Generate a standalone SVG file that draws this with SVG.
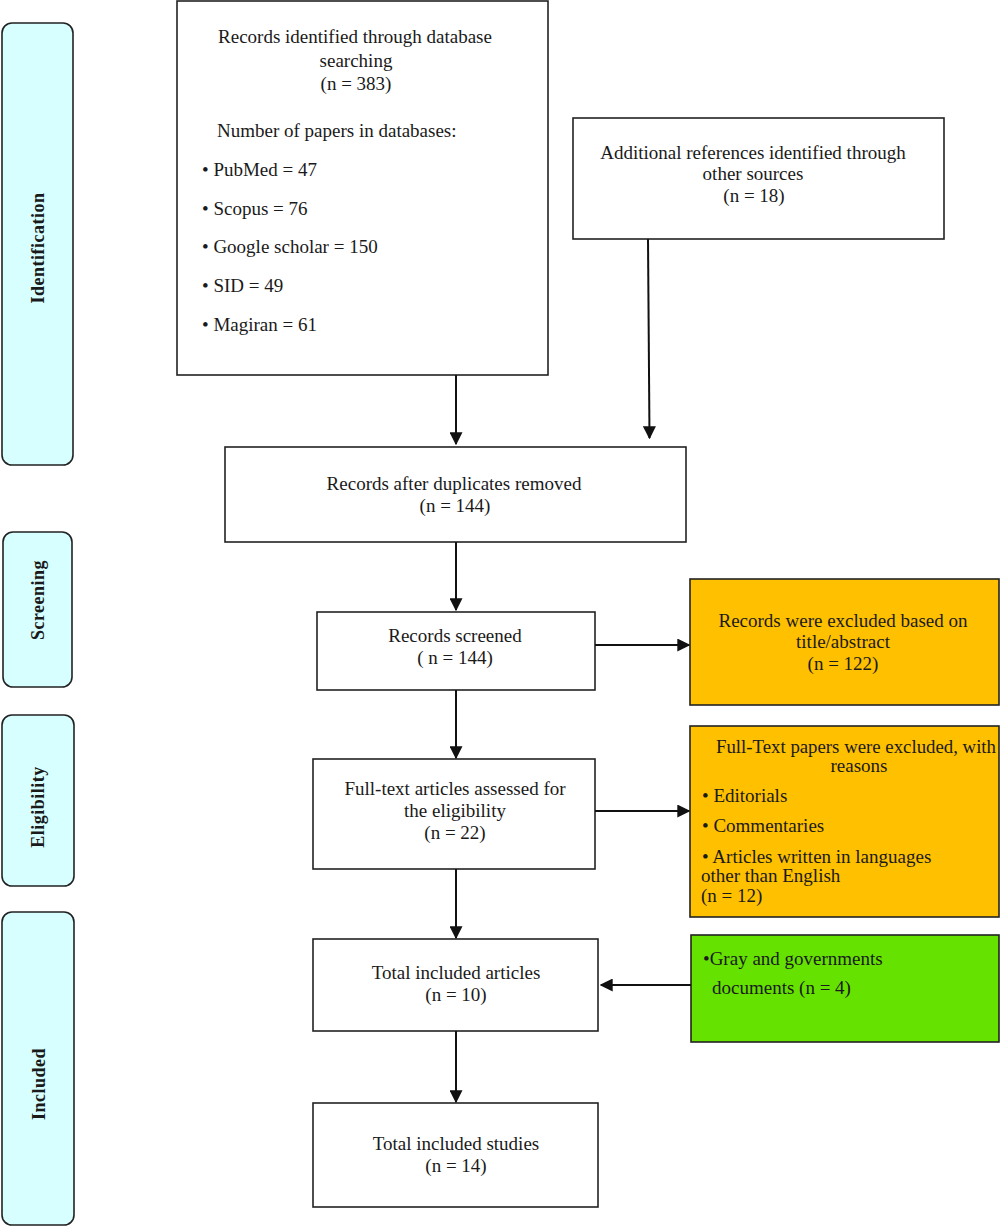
<svg xmlns="http://www.w3.org/2000/svg" width="1000" height="1227" viewBox="0 0 1000 1227">
<style>
  text { font-family: "Liberation Serif", "DejaVu Serif", serif; font-size: 19px; fill: #1a1a1a; }
  .c { text-anchor: middle; }
  .side { font-weight: bold; font-size: 18px; text-anchor: middle; letter-spacing: 0.5px; }
  .sbox { fill: #D7FFFF; stroke: #222; stroke-width: 1.6; }
  .box { fill: #fff; stroke: #222; stroke-width: 1.6; }
  .orange { fill: #FFC000; stroke: #222; stroke-width: 1.6; }
  .green { fill: #66E200; stroke: #222; stroke-width: 1.6; }
  .conn line { stroke: #111; stroke-width: 2; marker-end: url(#ah); }
</style>
<defs>
  <marker id="ah" viewBox="0 0 10 10" refX="9" refY="5" markerWidth="6.5" markerHeight="6.5" markerUnits="strokeWidth" orient="auto">
    <path d="M0,0 L10,5 L0,10 z" fill="#111"/>
  </marker>
</defs>
<rect width="1000" height="1227" fill="#fff"/>

<g id="side-identification">
  <rect class="sbox" x="2" y="23" width="71" height="442" rx="10"/>
  <text class="side" transform="translate(44,248) rotate(-90)">Identification</text>
</g>
<g id="side-screening">
  <rect class="sbox" x="3" y="532" width="69" height="155" rx="10"/>
  <text class="side" transform="translate(44,600) rotate(-90)">Screening</text>
</g>
<g id="side-eligibility">
  <rect class="sbox" x="2" y="715" width="72" height="171" rx="10"/>
  <text class="side" transform="translate(44,807) rotate(-90)">Eligibility</text>
</g>
<g id="side-included">
  <rect class="sbox" x="2" y="912" width="72" height="313" rx="10"/>
  <text class="side" transform="translate(45,1084) rotate(-90)">Included</text>
</g>

<g id="node-db">
  <rect class="box" x="177" y="1" width="371" height="374"/>
  <text class="c" x="355" y="43">Records identified through database</text>
  <text class="c" x="356" y="67">searching</text>
  <text class="c" x="356" y="90">(n = 383)</text>
  <text x="217" y="137">Number of papers in databases:</text>
  <text x="202" y="176">• PubMed = 47</text>
  <text x="202" y="215">• Scopus = 76</text>
  <text x="202" y="253">• Google scholar = 150</text>
  <text x="202" y="292">• SID = 49</text>
  <text x="202" y="331">• Magiran = 61</text>
</g>

<g id="node-other">
  <rect class="box" x="573" y="118" width="371" height="121"/>
  <text class="c" x="753" y="159">Additional references identified through</text>
  <text class="c" x="753" y="180">other sources</text>
  <text class="c" x="754" y="202">(n = 18)</text>
</g>

<g id="node-dup">
  <rect class="box" x="225" y="447" width="461" height="95"/>
  <text class="c" x="454" y="490">Records after duplicates removed</text>
  <text class="c" x="455" y="512">(n = 144)</text>
</g>

<g id="node-screened">
  <rect class="box" x="317" y="612" width="278" height="78"/>
  <text class="c" x="455" y="642">Records screened</text>
  <text class="c" x="455" y="664">( n = 144)</text>
</g>

<g id="node-excl1">
  <rect class="orange" x="690" y="579" width="309" height="126"/>
  <text class="c" x="843" y="627">Records were excluded based on</text>
  <text class="c" x="843" y="648">title/abstract</text>
  <text class="c" x="843" y="670">(n = 122)</text>
</g>

<g id="node-fulltext">
  <rect class="box" x="313" y="759" width="282" height="110"/>
  <text class="c" x="455" y="795">Full-text articles assessed for</text>
  <text class="c" x="455" y="817">the eligibility</text>
  <text class="c" x="455" y="839">(n = 22)</text>
</g>

<g id="node-excl2">
  <rect class="orange" x="690" y="726" width="309" height="191"/>
  <text x="716" y="753" textLength="280" lengthAdjust="spacingAndGlyphs">Full-Text papers were excluded, with</text>
  <text class="c" x="859" y="772">reasons</text>
  <text x="702" y="802">• Editorials</text>
  <text x="702" y="832">• Commentaries</text>
  <text x="702" y="863">• Articles written in languages</text>
  <text x="701" y="882">other than English</text>
  <text x="701" y="902">(n = 12)</text>
</g>

<g id="node-articles">
  <rect class="box" x="313" y="939" width="285" height="92"/>
  <text class="c" x="456" y="979">Total included articles</text>
  <text class="c" x="456" y="1001">(n = 10)</text>
</g>

<g id="node-gray">
  <rect class="green" x="691" y="935" width="308" height="107"/>
  <text x="703" y="965">•Gray and governments</text>
  <text x="712" y="994">documents (n = 4)</text>
</g>

<g id="node-studies">
  <rect class="box" x="313" y="1103" width="285" height="104"/>
  <text class="c" x="456" y="1150">Total included studies</text>
  <text class="c" x="456" y="1172">(n = 14)</text>
</g>

<g id="connectors" class="conn">
  <line x1="456" y1="375" x2="456" y2="444"/>
  <line x1="648" y1="239" x2="649.5" y2="438"/>
  <line x1="456" y1="542" x2="456" y2="610"/>
  <line x1="595" y1="645" x2="689" y2="645"/>
  <line x1="456" y1="690" x2="456" y2="758"/>
  <line x1="595" y1="811" x2="689" y2="811"/>
  <line x1="456" y1="869" x2="456" y2="938"/>
  <line x1="691" y1="985" x2="601" y2="985"/>
  <line x1="456" y1="1031" x2="456" y2="1102"/>
</g>
</svg>
